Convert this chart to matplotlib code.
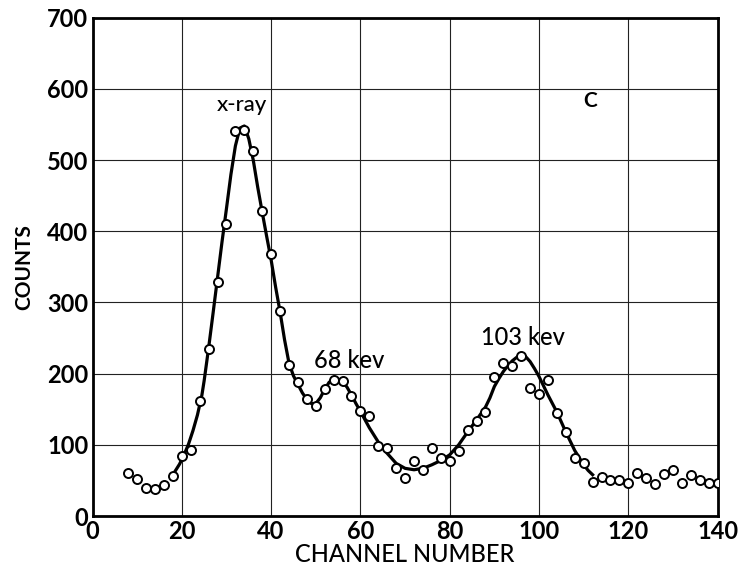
import matplotlib
matplotlib.use('Agg')
import matplotlib.pyplot as plt

# measured points (channel, counts)
channels = [8, 10, 12, 14, 16, 18, 20, 22, 24, 26, 28, 30, 32, 34, 36, 38, 40, 42, 44, 46, 48,
            50, 52, 54, 56, 58, 60, 62, 64, 66, 68, 70, 72, 74, 76, 78, 80, 82, 84, 86,
            88, 90, 92, 94, 96, 98, 100, 102, 104, 106, 108, 110, 112, 114, 116, 118, 120,
            122, 124, 126, 128, 130, 132, 134, 136, 138, 140]
counts = [61, 52, 40, 38, 43, 56, 84, 93, 161, 234, 329, 410, 541, 543, 513, 429, 368, 288, 212, 188, 164,
          154, 179, 191, 190, 168, 147, 140, 99, 95, 68, 54, 77, 64, 95, 81, 78, 92, 121, 133,
          146, 196, 215, 211, 225, 180, 171, 191, 145, 118, 81, 75, 48, 55, 51, 51, 46,
          60, 53, 45, 59, 64, 46, 58, 50, 46, 46]

# hand-drawn fit curve
curve_x = [18.5, 19.5, 20.5, 21.5, 22.5, 23.5, 24.5, 25, 26, 27, 28, 29, 30, 31, 32, 33, 34, 35, 36, 37, 38, 39, 40,
           41, 42, 43, 44, 45, 46, 47, 48, 49, 50, 51, 52, 53, 54, 55, 56, 57, 58, 59, 60,
           62, 64, 66, 68, 70, 72, 74, 76, 78, 80, 82, 84, 86, 88, 89, 90, 91, 92, 93, 94,
           95, 96, 96.5, 97, 98, 99, 100, 101, 102, 103, 104, 105, 106, 107, 108, 109, 110, 111, 112]
curve_y = [63, 73, 86, 101, 120, 142, 170, 190, 236, 285, 335, 385, 432, 480, 520, 545, 548, 530, 500, 462, 427, 393, 360,
           322, 287, 248, 215, 197, 185, 173, 164, 158, 158, 166, 178, 188, 192, 192, 189, 181, 170, 158, 147,
           124, 104, 88, 74, 67, 65, 67, 72, 78, 86, 100, 118, 135, 153, 166, 182, 193, 203, 211, 218,
           223, 226, 226, 224, 217, 207, 196, 183, 170, 158, 146, 132, 118, 105, 92, 82, 72, 64, 58]

xticks = [0, 20, 40, 60, 80, 100, 120, 140]
yticks = [0, 100, 200, 300, 400, 500, 600, 700]

plt.rcParams['font.family'] = ['Lato', 'DejaVu Sans']

fig = plt.figure(figsize=(7.46, 5.74), dpi=100)
ax = fig.add_axes([0.124, 0.101, 0.838, 0.868])

ax.plot(curve_x, curve_y, color='black', lw=2.3, zorder=2)
ax.plot(channels, counts, 'o', ms=6.5, mfc='white', mec='black', mew=1.4, zorder=3)

ax.set_xlim(0, 140)
ax.set_ylim(0, 700)
ax.set_xticks(xticks)
ax.set_yticks(yticks)
ax.grid(True, color='#222222', lw=0.8)
ax.tick_params(length=0, labelsize=17, pad=3)
for lab in ax.get_xticklabels() + ax.get_yticklabels():
    lab.set_fontweight('bold')
for s in ax.spines.values():
    s.set_linewidth(2)

ax.set_xlabel('CHANNEL NUMBER', fontsize=17, fontweight='medium', labelpad=0)
ax.set_ylabel('COUNTS', fontsize=15, fontweight='bold', labelpad=9)

ax.text(33.5, 577, 'x-ray', ha='center', va='center', fontsize=16, fontweight='medium')
ax.text(57.5, 219, '68 kev', ha='center', va='center', fontsize=17, fontweight='medium')
ax.text(96.3, 251, '103 kev', ha='center', va='center', fontsize=17, fontweight='medium')
ax.text(111.5, 583, 'C', ha='center', va='center', fontsize=15, fontweight='bold')

fig.savefig('out.png', dpi=100, facecolor='white')
